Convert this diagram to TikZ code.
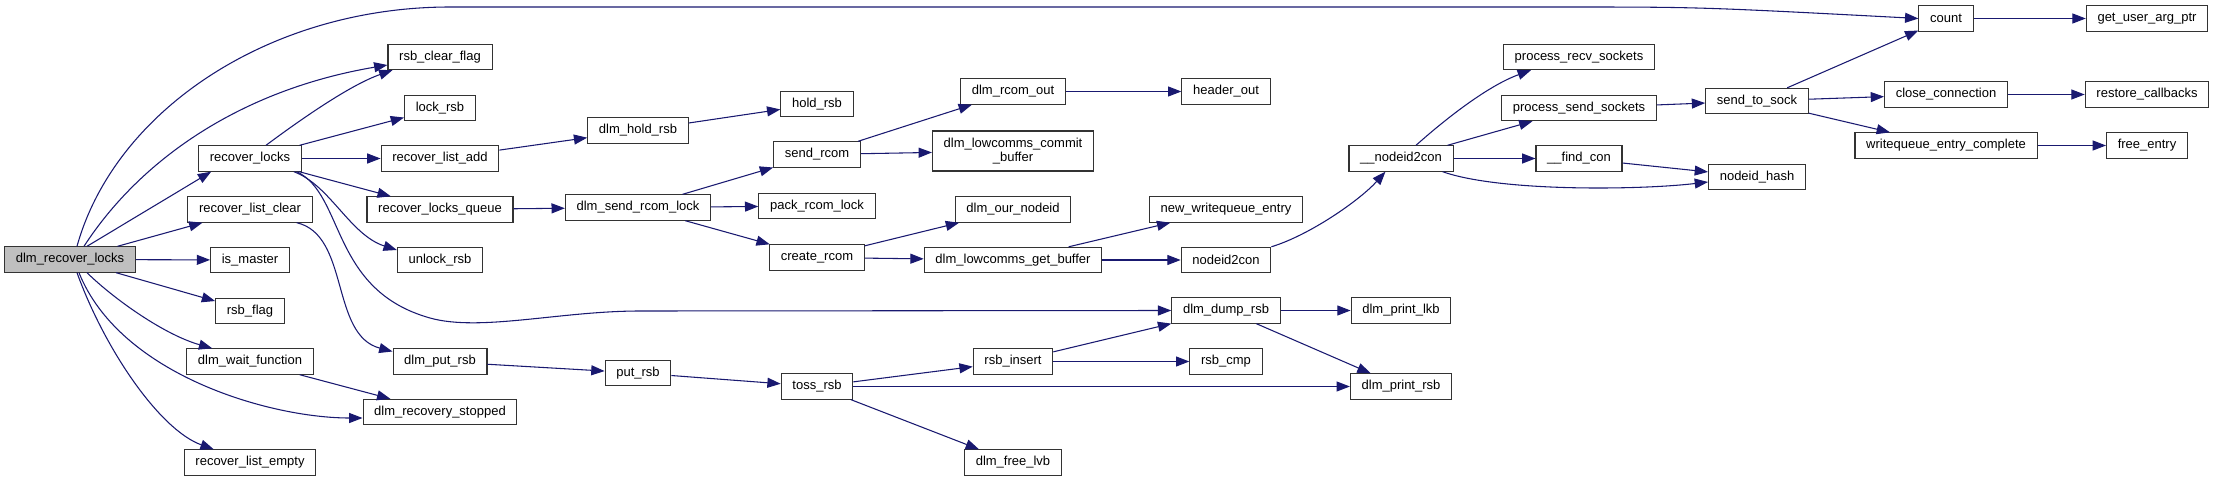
\documentclass[tikz,border=0pt]{standalone}
\usepackage{fontspec}
\setmainfont{Liberation Sans}
\usetikzlibrary{arrows.meta,calc}
\definecolor{callLine}{HTML}{191970}
\definecolor{boxLine}{HTML}{333333}
\definecolor{rootFill}{HTML}{BFBFBF}
\tikzset{
  % --- function boxes ------------------------------------------------------
  fnbox/.style   = {draw=boxLine, fill=white, line width=0.8pt,
                    font=\fontsize{9.75}{10}\selectfont,
                    inner xsep=8.4pt, inner ysep=2pt, minimum height=19pt},
  rootbox/.style = {fnbox, fill=rootFill},
  % --- calls ---------------------------------------------------------------
  call/.style    = {draw=callLine, line width=0.8pt,
                    -{Triangle[length=10pt,width=7.5pt]}},
}
\begin{document}
\begin{tikzpicture}[x=0.75pt, y=-0.75pt]
\useasboundingbox (0,0) rectangle (2215,481);

% ------------------------------- caller ------------------------------------
\node[rootbox] (root) at (70,259.5) {dlm\_recover\_locks};

% ------------------------------- column 1 ----------------------------------
\node[fnbox] (rlocks)   at (250,158.5) {recover\_locks};
\node[fnbox] (rlclear)  at (250,209.5) {recover\_list\_clear};
\node[fnbox] (ismaster) at (250,260)   {is\_master};
\node[fnbox] (rsbflag)  at (250,311)   {rsb\_flag};
\node[fnbox] (waitfn)   at (250,361.5) {dlm\_wait\_function};
\node[fnbox] (rlempty)  at (250,462.5) {recover\_list\_empty};

% ------------------------------- column 2 ----------------------------------
\node[fnbox] (rsbclr)    at (440,57)    {rsb\_clear\_flag};
\node[fnbox] (lockrsb)   at (440,108)   {lock\_rsb};
\node[fnbox] (rladd)     at (440,158.5) {recover\_list\_add};
\node[fnbox] (rlqueue)   at (440,209.5) {recover\_locks\_queue};
\node[fnbox] (unlockrsb) at (440,260)   {unlock\_rsb};
\node[fnbox] (putrsbd)   at (440,361.5) {dlm\_put\_rsb};
\node[fnbox] (rstopped)  at (440,412)   {dlm\_recovery\_stopped};

% ------------------------------- column 3 ----------------------------------
\node[fnbox] (holdrsbd) at (638,130.5) {dlm\_hold\_rsb};
\node[fnbox] (sendlock) at (638,207.5) {dlm\_send\_rcom\_lock};
\node[fnbox] (putrsb)   at (638,373)   {put\_rsb};

% ------------------------------- column 4 ----------------------------------
\node[fnbox] (holdrsb)  at (817,104)   {hold\_rsb};
\node[fnbox] (sendrcom) at (817,154.5) {send\_rcom};
\node[fnbox] (packlock) at (817,206)   {pack\_rcom\_lock};
\node[fnbox] (createrc) at (817,257.5) {create\_rcom};
\node[fnbox] (tossrsb)  at (817,386.5) {toss\_rsb};

% ------------------------------- column 5 ----------------------------------
\node[fnbox] (rcomout)   at (1013,91.5)  {dlm\_rcom\_out};
\node[fnbox, align=center, minimum height=30pt]
             (commitbuf) at (1013,151)   {dlm\_lowcomms\_commit\\\_buffer};
\node[fnbox] (ournodeid) at (1013,209.5) {dlm\_our\_nodeid};
\node[fnbox] (getbuf)    at (1013,260)   {dlm\_lowcomms\_get\_buffer};
\node[fnbox] (rsbinsert) at (1013,361.5) {rsb\_insert};
\node[fnbox] (freelvb)   at (1013,462.5) {dlm\_free\_lvb};

% ------------------------------- column 6 ----------------------------------
\node[fnbox] (headerout)  at (1226,91.5)  {header\_out};
\node[fnbox] (newwq)      at (1226,209.5) {new\_writequeue\_entry};
\node[fnbox] (nodeid2con) at (1226,260)   {nodeid2con};
\node[fnbox] (dumprsb)    at (1226,310.5) {dlm\_dump\_rsb};
\node[fnbox] (rsbcmp)     at (1226,361.5) {rsb\_cmp};

% ------------------------------- column 7 ----------------------------------
\node[fnbox] (nodeidcon) at (1401,158.5) {\_\_nodeid2con};
\node[fnbox] (printlkb)  at (1401,310.5) {dlm\_print\_lkb};
\node[fnbox] (printrsb)  at (1401,386.5) {dlm\_print\_rsb};

% ------------------------------- column 8 ----------------------------------
\node[fnbox] (recvsock) at (1579,57)    {process\_recv\_sockets};
\node[fnbox] (sendsock) at (1579,108)   {process\_send\_sockets};
\node[fnbox] (findcon)  at (1579,158.5) {\_\_find\_con};

% ------------------------------- column 9 ----------------------------------
\node[fnbox] (sendtosock) at (1757,101) {send\_to\_sock};
\node[fnbox] (nodeidhash) at (1757,177) {nodeid\_hash};

% ------------------------------ columns 10, 11 -----------------------------
\node[fnbox] (count)      at (1946,18.5)  {count};
\node[fnbox] (closeconn)  at (1946,94.5)  {close\_connection};
\node[fnbox] (wqcomplete) at (1946,145.5) {writequeue\_entry\_complete};
\node[fnbox] (getarg)     at (2147,18.5)  {get\_user\_arg\_ptr};
\node[fnbox] (restorecb)  at (2147,94.5)  {restore\_callbacks};
\node[fnbox] (freeentry)  at (2147,145.5) {free\_entry};

% --------------------------- calls from the root ---------------------------
\draw[call] ($(root.north)+(7,0)$) .. controls (115,110) and (270,7) .. (450,7)
            -- (1560,7) .. controls (1700,7) .. (count.west);
\draw[call] ($(root.north)+(14,0)$) .. controls (140,160) and (240,90)
            .. ($(rsbclr.west)+(0,8)$);
\draw[call] ($(root.north)+(17,0)$) -- ($(rlocks.south west)+(13,0)$);
\draw[call] (root) -- (rlclear);
\draw[call] (root) -- (ismaster);
\draw[call] (root) -- (rsbflag);
\draw[call] ($(root.south)+(17,0)$) .. controls (115,300) and (165,335)
            .. ($(waitfn.north west)+(26,0)$);
\draw[call] ($(root.south)+(9,0)$) .. controls (120,375) and (270,418)
            .. ($(rstopped.west)+(0,6)$);
\draw[call] ($(root.south)+(7,0)$) .. controls (105,350) and (160,430)
            .. ($(rlempty.north west)+(30,0)$);

% --------------------------- columns 1 to 2 --------------------------------
\draw[call] ($(rlocks.north)+(16,0)$) .. controls (300,120) and (350,85)
            .. ($(rsbclr.south west)+(5,0)$);
\foreach \a/\b in {rlocks/lockrsb, rlocks/rladd, rlocks/rlqueue, waitfn/rstopped}{
  \draw[call] (\a) -- (\b);
}
\draw[call] ($(rlocks.south east)+(-8,0)$) .. controls (330,185) and (350,235)
            .. ($(unlockrsb.west)+(0,-10)$);
\draw[call] ($(rlocks.south east)+(-5,0)$) .. controls (345,195) and (330,290)
            .. (430,318) .. controls (480,332) and (560,311) .. (640,311)
            -- (dumprsb.west);
\draw[call] ($(rlclear.south east)+(-16,0)$) .. controls (350,235) and (330,335)
            .. ($(putrsbd.west)+(0,-10)$);

% --------------------------- straight calls --------------------------------
\foreach \a/\b in {rladd/holdrsbd, rlqueue/sendlock, putrsbd/putrsb,
                   holdrsbd/holdrsb, sendlock/sendrcom, sendlock/packlock,
                   sendlock/createrc, putrsb/tossrsb,
                   sendrcom/rcomout, sendrcom/commitbuf, createrc/ournodeid,
                   createrc/getbuf, tossrsb/rsbinsert, tossrsb/printrsb,
                   tossrsb/freelvb,
                   rcomout/headerout, getbuf/newwq, getbuf/nodeid2con,
                   rsbinsert/dumprsb, rsbinsert/rsbcmp,
                   dumprsb/printlkb, dumprsb/printrsb,
                   nodeidcon/sendsock, nodeidcon/findcon,
                   findcon/nodeidhash, sendsock/sendtosock,
                   sendtosock/count, sendtosock/closeconn, sendtosock/wqcomplete,
                   count/getarg, closeconn/restorecb, wqcomplete/freeentry}{
  \draw[call] (\a) -- (\b);
}

% --------------------------- curved calls ----------------------------------
\draw[call] (nodeid2con.north east) .. controls (1310,235) and (1360,200)
            .. ($(nodeidcon.south west)+(37,0)$);
\draw[call] ($(nodeidcon.north)+(15,0)$) .. controls (1450,115) and (1490,85)
            .. ($(recvsock.south west)+(28,0)$);
\draw[call] ($(nodeidcon.south east)+(-11,0)$) .. controls (1500,192) and (1640,190)
            .. ($(nodeidhash.west)+(0,5)$);

\end{tikzpicture}
\end{document}
